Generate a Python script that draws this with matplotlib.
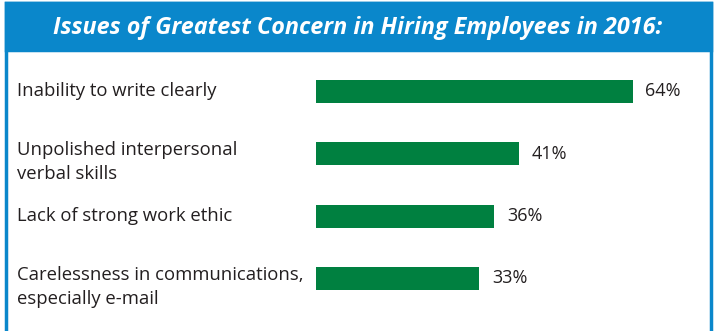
import matplotlib.pyplot as plt
from matplotlib.patches import Rectangle
from matplotlib.transforms import blended_transform_factory, offset_copy

# survey results
issues = [
    "Inability to write clearly",
    "Unpolished interpersonal\nverbal skills",
    "Lack of strong work ethic",
    "Carelessness in communications,\nespecially e-mail",
]
percent = [64, 41, 36, 33]
title = "Issues of Greatest Concern in Hiring Employees in 2016:"

BLUE = "#0A87CB"
GREEN = "#008040"
TEXT = "#231F20"

W, H = 715, 331
fig = plt.figure(figsize=(W / 100, H / 100), dpi=100)
fig.patch.set_facecolor("white")

def px(x, y):
    # pixel position (from top-left) -> figure fraction
    return x / W, 1 - y / H

# frame and header band
x0, y0 = px(6, 3)
x1, _ = px(711, 0)
fig.patches.append(Rectangle((x0, -0.05), x1 - x0, y0 + 0.05, transform=fig.transFigure,
                             facecolor="white", edgecolor=BLUE, linewidth=2.5, zorder=0))
_, yb = px(0, 50)
fig.patches.append(Rectangle((x0, yb), x1 - x0, y0 - yb, transform=fig.transFigure,
                             facecolor=BLUE, edgecolor=BLUE, linewidth=2.5, zorder=1))
fig.text(0.5, 1 - 28 / H, title, color="white", fontsize=16.8, fontweight="bold",
         fontstyle="italic", family="Open Sans", ha="center", va="center", zorder=2)

# plotting area: bars start at x=316px, rows centred every ~62px from y=91.5px
left, top = 316, 60
right, bottom = 711, 331
ax = fig.add_axes([left / W, 1 - bottom / H, (right - left) / W, (bottom - top) / H])
ax.set_zorder(5)
ax.patch.set_visible(False)
ax.set_axis_off()
step = 62.3
ax.set_ylim((bottom - 91.5) / step, -(91.5 - top) / step)
ax.set_xlim(0, 64 * (right - left) / 317)

rows = list(range(len(issues)))
ax.barh(rows, percent, height=23 / step, color=GREEN, zorder=3)

trans = blended_transform_factory(fig.transFigure, ax.transData)
for i, (label, val) in enumerate(zip(issues, percent)):
    ax.annotate(f"{val}%", (val, i), xytext=(9, 0), textcoords="offset points",
                ha="left", va="center", fontsize=13, color=TEXT, family="Open Sans")
    # labels sit at the left edge of the frame; two-line ones drop a little
    dy = -6 if "\n" in label else 0
    ax.text(17 / W, i, label, transform=offset_copy(trans, fig=fig, x=0, y=dy, units="points"),
            ha="left", va="center", fontsize=13.3, color=TEXT, family="Open Sans",
            linespacing=1.4, clip_on=False)

fig.savefig("out.png", dpi=100)
